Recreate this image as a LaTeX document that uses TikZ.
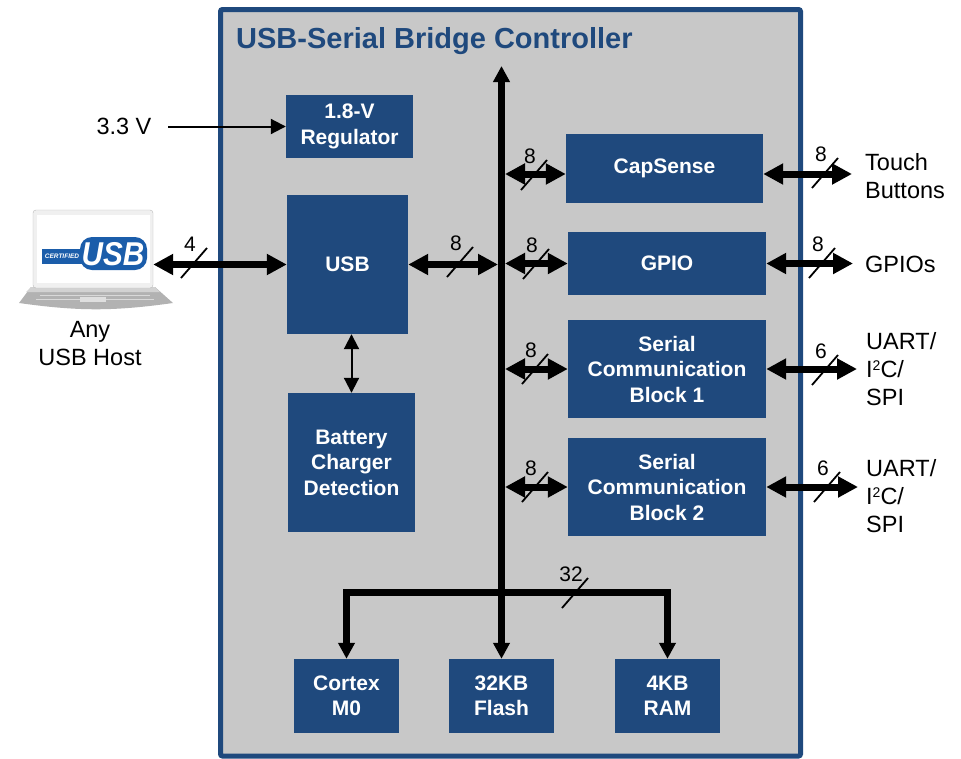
\documentclass[tikz,border=0pt]{standalone}
\usepackage{fontspec}
\setmainfont{Liberation Sans}
\usetikzlibrary{arrows.meta, positioning}

\definecolor{ctrlblue}{HTML}{1F497D}
\definecolor{ctrlgray}{HTML}{C8C8C8}
\definecolor{usbblue}{HTML}{1B5DAA}

\begin{document}
\begin{tikzpicture}[x=1pt, y=-1pt]
        % block and line styles
        \tikzstyle{blk}=[fill=ctrlblue, text=white, inner sep=0pt, align=center, font=\fontsize{21}{25.5}\selectfont\bfseries]
        \tikzstyle{lbl}=[inner sep=0pt, align=left, font=\fontsize{23.5}{28}\selectfont]
        \tikzstyle{num}=[inner sep=0pt, font=\fontsize{21}{21}\selectfont]
        \tikzstyle{wide}=[line width=7pt, >={Triangle[length=20pt,width=20pt]}, <->]
        \tikzstyle{bus}=[line width=7.5pt, >={Triangle[length=16pt,width=16pt]}]
        \tikzstyle{thinarrow}=[line width=2pt, >={Triangle[length=15pt,width=15pt]}]
        \tikzstyle{slash}=[line width=1.8pt]

        \useasboundingbox (0,0) rectangle (961,758);

        % controller outline
        \draw[line width=5pt, draw=ctrlblue, fill=ctrlgray, rounded corners=2pt] (220.5,9.5) rectangle (800.5,756);
        \node[anchor=base west, inner sep=0pt, text=ctrlblue, font=\fontsize{29}{29}\selectfont\bfseries] (title) at (236,48) {USB-Serial Bridge Controller};

        % blocks
        \node[blk, minimum width=127pt, minimum height=63pt] (reg) at (349.5,126.5) {1.8-V\\Regulator};
        \node[blk, minimum width=121pt, minimum height=139pt] (usb) at (347.5,264.5) {USB};
        \node[blk, minimum width=127pt, minimum height=139pt] (bcd) at (351.5,462.5) {Battery\\Charger\\Detection};
        \node[blk, minimum width=197pt, minimum height=69pt] (cap) at (664.5,168.5) {CapSense};
        \node[blk, minimum width=198pt, minimum height=63pt] (gpio) at (667,263.5) {GPIO};
        \node[blk, minimum width=198pt, minimum height=98pt] (scb1) at (667,369) {Serial\\Communication\\Block 1};
        \node[blk, minimum width=198pt, minimum height=98pt] (scb2) at (667,487) {Serial\\Communication\\Block 2};
        \node[blk, minimum width=105pt, minimum height=74pt] (cm0) at (346.5,696) {Cortex\\M0};
        \node[blk, minimum width=105pt, minimum height=74pt] (flash) at (501.5,696) {32KB\\Flash};
        \node[blk, minimum width=105pt, minimum height=74pt] (ram) at (667.5,696) {4KB\\RAM};

        % host laptop
        \fill[gray!60] (31,287) -- (155,287) -- (173,303) to[bend left=8] (19,303) -- cycle;
        \fill[gray!35] (31,287) -- (155,287) -- (160,292) -- (26,292) -- cycle;
        \draw[gray!30, line width=1pt] (40,295) -- (150,295) (36,299) -- (154,299);
        \fill[gray!25] (80,297) rectangle (106,302);
        \node[draw=gray!55, fill=gray!12, rounded corners=3pt, minimum width=120pt, minimum height=78pt, inner sep=0pt] (host) at (93,249) {};
        \fill[white] (37,215) rectangle (150,283);
        \fill[usbblue, rounded corners=12pt] (80,237) rectangle (147,270);
        \fill[usbblue] (42,249) rectangle (84,264);
        \node[text=white, inner sep=0pt, font=\fontsize{6.5}{6.5}\selectfont\bfseries\itshape] (cert) at (62,256.5) {CERTIFIED};
        \node[text=white, inner sep=0pt, xscale=0.9, font=\fontsize{33}{33}\selectfont\bfseries\itshape] (logo) at (113,254) {USB};

        % outside labels
        \node[lbl, align=center] (hostlbl) at (90,344) {Any\\USB Host};
        \node[lbl] (vin) at (124,126.5) {3.3 V};
        \node[lbl, anchor=west] (touch) at (865,176) {Touch\\Buttons};
        \node[lbl, anchor=west] (gpios) at (865,264) {GPIOs};
        \node[lbl, anchor=west] (ser1) at (866,369) {UART/\\I{\fontsize{14}{14}\selectfont\raisebox{6.5pt}{2}}C/\\SPI};
        \node[lbl, anchor=west] (ser2) at (866,496) {UART/\\I{\fontsize{14}{14}\selectfont\raisebox{6.5pt}{2}}C/\\SPI};

        % bus coordinates
        \coordinate (bustop) at (501.5,66);
        \coordinate (br) at (501.5,592.5);
        \coordinate (busL) at (498,0);
        \coordinate (busR) at (505,0);
        \coordinate (tb) at (852,174);
        \coordinate (gp) at (853,263.5);
        \coordinate (u1) at (857,369);
        \coordinate (u2) at (858,487);

        % system bus
        \draw[bus, <->] (bustop) -- (flash.north);
        \draw[bus, ->] (br) -| (cm0.north);
        \draw[bus, ->] (br) -| (ram.north);

        % connections
        \draw[thinarrow, ->] ([xshift=16.5pt]vin.east) -- (reg.west);
        \draw[thinarrow, <->] (usb.south -| bcd.north) -- (bcd.north);
        \draw[wide] (usb.west -| host.east) -- (usb.west);
        \draw[wide] (usb.east) -- (usb.east -| busL);
        \draw[wide] (busR |- tb) -- (cap.west |- tb);
        \draw[wide] (gpio.west -| busR) -- (gpio.west);
        \draw[wide] (scb1.west -| busR) -- (scb1.west);
        \draw[wide] (scb2.west -| busR) -- (scb2.west);
        \draw[wide] (cap.east |- tb) -- (tb);
        \draw[wide] (gpio.east) -- (gp);
        \draw[wide] (scb1.east) -- (u1);
        \draw[wide] (scb2.east) -- (u2);

        % bus widths
        \foreach \x/\y/\n in {194/263/4, 460/262/8, 534/175/8, 536/264/8, 535/369/8, 535/487/8, 825/173/8, 822/263/8, 825/370/6, 827/487/6, 575/593/32} {
          \draw[slash] (\x-13,\y+15) -- (\x+13,\y-15);
          \node[num] at (\x-4,\y-19) {\n};
        }
\end{tikzpicture}
\end{document}
